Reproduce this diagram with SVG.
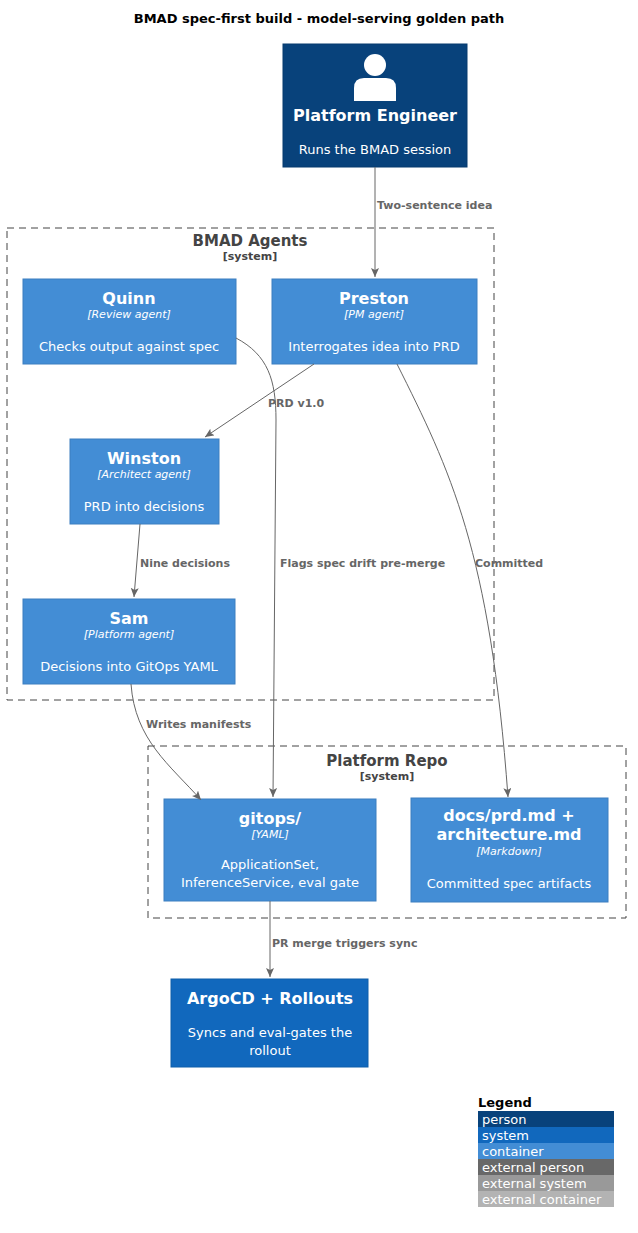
<svg xmlns="http://www.w3.org/2000/svg" width="638" height="1233" viewBox="0 0 638 1233">
<style>
text{font-family:"DejaVu Sans",sans-serif}
.t{font-weight:bold;font-size:16px;fill:#fff;text-anchor:middle}
.s{font-style:italic;font-size:11px;fill:#fff;text-anchor:middle}
.d{font-size:13px;fill:#fff;text-anchor:middle}
.l{font-weight:bold;font-size:11px;fill:#666}
.b{fill:none;stroke:#444;stroke-dasharray:7 5}
.bt{font-weight:bold;font-size:15px;fill:#444;text-anchor:middle}
.bs{font-weight:bold;font-size:11px;fill:#444;text-anchor:middle}
.c{fill:#438DD5;stroke:#3C7FC0}
.e{fill:none;stroke:#666;stroke-width:1;marker-end:url(#a)}
.lg{font-size:13px;fill:#fff}
</style>
<defs><marker id="a" markerWidth="10" markerHeight="10" refX="9" refY="4" orient="auto" markerUnits="userSpaceOnUse"><path d="M0,0 L9,4 L0,8 L2,4 z" fill="#666"/></marker></defs>
<rect width="638" height="1233" fill="#fff"/>
<text x="319" y="23" text-anchor="middle" font-weight="bold" font-size="13">BMAD spec-first build - model-serving golden path</text>
<rect class="b" x="7" y="228" width="487" height="472"/>
<text class="bt" x="250" y="246">BMAD Agents</text><text class="bs" x="250" y="260">[system]</text>
<rect class="b" x="148" y="746" width="478" height="172"/>
<text class="bt" x="387" y="766">Platform Repo</text><text class="bs" x="387" y="780">[system]</text>
<g id="engineer"><rect x="283" y="44" width="184" height="123" fill="#08427B" stroke="#073B6F"/>
<circle cx="375" cy="65" r="11" fill="#fff"/><path d="M354,101 L354,88 Q354,78 364,78 L386,78 Q396,78 396,88 L396,101 Z" fill="#fff"/>
<text class="t" x="375" y="121">Platform Engineer</text><text class="d" x="375" y="154">Runs the BMAD session</text></g>
<g id="quinn"><rect class="c" x="23" y="279" width="213" height="85"/><text class="t" x="129" y="304">Quinn</text><text class="s" x="129" y="318">[Review agent]</text><text class="d" x="129" y="351">Checks output against spec</text></g>
<g id="preston"><rect class="c" x="272" y="279" width="205" height="85"/><text class="t" x="374" y="304">Preston</text><text class="s" x="374" y="318">[PM agent]</text><text class="d" x="374" y="351">Interrogates idea into PRD</text></g>
<g id="winston"><rect class="c" x="70" y="439" width="149" height="85"/><text class="t" x="144" y="464">Winston</text><text class="s" x="144" y="478">[Architect agent]</text><text class="d" x="144" y="511">PRD into decisions</text></g>
<g id="sam"><rect class="c" x="23" y="599" width="212" height="85"/><text class="t" x="129" y="624">Sam</text><text class="s" x="129" y="638">[Platform agent]</text><text class="d" x="129" y="671">Decisions into GitOps YAML</text></g>
<g id="gitops"><rect class="c" x="164" y="799" width="212" height="102"/><text class="t" x="270" y="824">gitops/</text><text class="s" x="270" y="838">[YAML]</text><text class="d" x="270" y="869">ApplicationSet,</text><text class="d" x="270" y="887">InferenceService, eval gate</text></g>
<g id="docs"><rect class="c" x="411" y="798" width="197" height="104"/><text class="t" x="509" y="821">docs/prd.md +</text><text class="t" x="509" y="840">architecture.md</text><text class="s" x="509" y="855">[Markdown]</text><text class="d" x="509" y="888">Committed spec artifacts</text></g>
<g id="argocd"><rect x="171" y="979" width="197" height="88" fill="#1168BD" stroke="#0F5EAA"/><text class="t" x="270" y="1004">ArgoCD + Rollouts</text><text class="d" x="270" y="1037">Syncs and eval-gates the</text><text class="d" x="270" y="1055">rollout</text></g>
<g id="connectors">
<path class="e" d="M375,167 L375,277"/><text class="l" x="377" y="209">Two-sentence idea</text>
<path class="e" d="M314,364 L205,437"/><text class="l" x="268" y="407">PRD v1.0</text>
<path class="e" d="M140,524 L134,597"/><text class="l" x="140" y="567">Nine decisions</text>
<path class="e" d="M236,338 C268,355 276,380 276,420 L273,797"/><text class="l" x="280" y="567">Flags spec drift pre-merge</text>
<path class="e" d="M397,364 C450,470 490,550 508,797"/><text class="l" x="475" y="567">Committed</text>
<path class="e" d="M131,684 C135,740 170,765 201,800"/><text class="l" x="146" y="728">Writes manifests</text>
<path class="e" d="M270,901 L270,977"/><text class="l" x="272" y="947">PR merge triggers sync</text>
</g>
<g id="legend">
<text x="478" y="1107" font-weight="bold" font-size="13">Legend</text>
<rect x="478" y="1111" width="136" height="16" fill="#08427B"/><text class="lg" x="482" y="1124">person</text>
<rect x="478" y="1127" width="136" height="16" fill="#1168BD"/><text class="lg" x="482" y="1140">system</text>
<rect x="478" y="1143" width="136" height="16" fill="#438DD5"/><text class="lg" x="482" y="1156">container</text>
<rect x="478" y="1159" width="136" height="16" fill="#686868"/><text class="lg" x="482" y="1172">external person</text>
<rect x="478" y="1175" width="136" height="16" fill="#999999"/><text class="lg" x="482" y="1188">external system</text>
<rect x="478" y="1191" width="136" height="16" fill="#B3B3B3"/><text class="lg" x="482" y="1204">external container</text>
</g>
</svg>
